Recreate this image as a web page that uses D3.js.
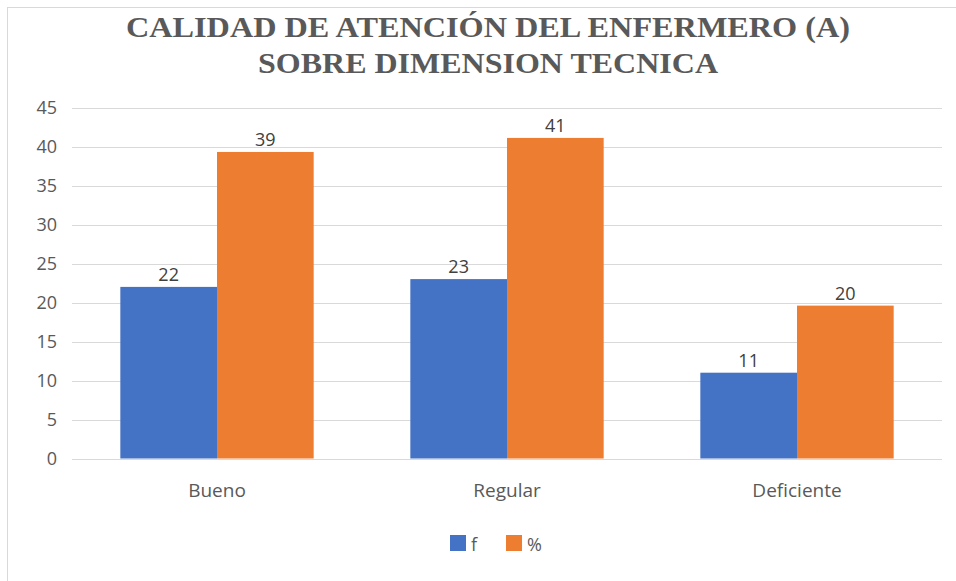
<!DOCTYPE html>
<html><head><meta charset="utf-8">
<script src="https://cdn.jsdelivr.net/npm/d3@7"></script>
<style>body{margin:0;background:#fff}svg{display:block}</style>
</head><body>
<script>
const categories = ["Bueno", "Regular", "Deficiente"];
const seriesNames = ["f", "%"];
const fValues = [22, 23, 11];
const pctValues = [39.3, 41.1, 19.6];
const yTicks = [0, 5, 10, 15, 20, 25, 30, 35, 40, 45];
const titleLines = ["CALIDAD DE ATENCIÓN DEL ENFERMERO (A)", "SOBRE DIMENSION TECNICA"];
const colors = ["#4472C4", "#ED7D31"];

const W = 956, H = 581;
const FONT = "'Open Sans','Noto Sans',sans-serif";
const svg = d3.select("body").append("svg").attr("width", W).attr("height", H);

// frame
svg.append("rect").attr("x", 7.5).attr("y", 7.5).attr("width", W + 10).attr("height", H + 10)
  .attr("fill", "#fff").attr("stroke", "#d9d9d9").attr("stroke-width", 1);

// title
const titleW = [724, 460];
const titleY = [37, 73];
titleLines.forEach((t, i) => {
  svg.append("text").attr("x", 488).attr("y", titleY[i]).attr("text-anchor", "middle")
    .attr("font-family", "'Liberation Serif','Times New Roman',serif").attr("font-weight", "bold")
    .attr("font-size", 30).attr("fill", "#595959")
    .attr("textLength", titleW[i]).attr("lengthAdjust", "spacingAndGlyphs").text(t);
});

const x0 = d3.scaleBand().domain(categories).range([72, 942]).paddingInner(0).paddingOuter(0);
const x1 = d3.scaleBand().domain(seriesNames).range([0, x0.bandwidth()]).paddingInner(0).paddingOuter(0.5);
const y = d3.scaleLinear().domain([0, 45]).range([458.5, 107.5]);

// gridlines
svg.append("g").selectAll("line").data(yTicks).join("line")
  .attr("x1", 72).attr("x2", 942).attr("y1", d => Math.round(y(d)) + 0.5).attr("y2", d => Math.round(y(d)) + 0.5)
  .attr("stroke", "#d9d9d9").attr("stroke-width", 1);

// y axis labels
const yAxis = d3.axisLeft(y).tickValues(yTicks).tickSize(0).tickPadding(0);
const gy = svg.append("g").attr("transform", "translate(57,0)").call(yAxis);
gy.select(".domain").remove();
gy.selectAll("text").attr("font-family", FONT).attr("font-size", 18)
  .attr("fill", "#595959").attr("dy", "0.35em");

const data = categories.map((c, i) => ({ c, vals: [fValues[i], pctValues[i]] }));

const groups = svg.append("g").selectAll("g").data(data).join("g")
  .attr("transform", d => `translate(${x0(d.c)},0)`);

groups.selectAll("rect").data(d => d.vals.map((v, j) => ({ v, s: seriesNames[j], j }))).join("rect")
  .attr("x", d => x1(d.s)).attr("width", x1.bandwidth())
  .attr("y", d => y(d.v)).attr("height", d => y(0) - y(d.v))
  .attr("fill", d => colors[d.j]);

groups.selectAll("text.lbl").data(d => d.vals.map((v, j) => ({ v, s: seriesNames[j], j }))).join("text")
  .attr("class", "lbl")
  .attr("x", d => x1(d.s) + x1.bandwidth() / 2).attr("y", d => y(d.v) - 6)
  .attr("text-anchor", "middle").attr("font-family", FONT)
  .attr("font-size", 18).attr("fill", "#404040").text(d => Math.round(d.v));

// x axis labels
const xAxis = d3.axisBottom(x0).tickSize(0).tickPadding(0);
const gx = svg.append("g").attr("transform", "translate(0,497)").call(xAxis);
gx.select(".domain").remove();
gx.selectAll("text").attr("font-family", FONT).attr("font-size", 19)
  .attr("fill", "#595959").attr("dy", "0");

// legend
const leg = svg.append("g");
const legX = [450, 506];
seriesNames.forEach((s, i) => {
  leg.append("rect").attr("x", legX[i]).attr("y", 535).attr("width", 16).attr("height", 16).attr("fill", colors[i]);
  leg.append("text").attr("x", legX[i] + 21).attr("y", 551)
    .attr("font-family", FONT).attr("font-size", 18).attr("fill", "#595959").text(s);
});
</script>
</body></html>
